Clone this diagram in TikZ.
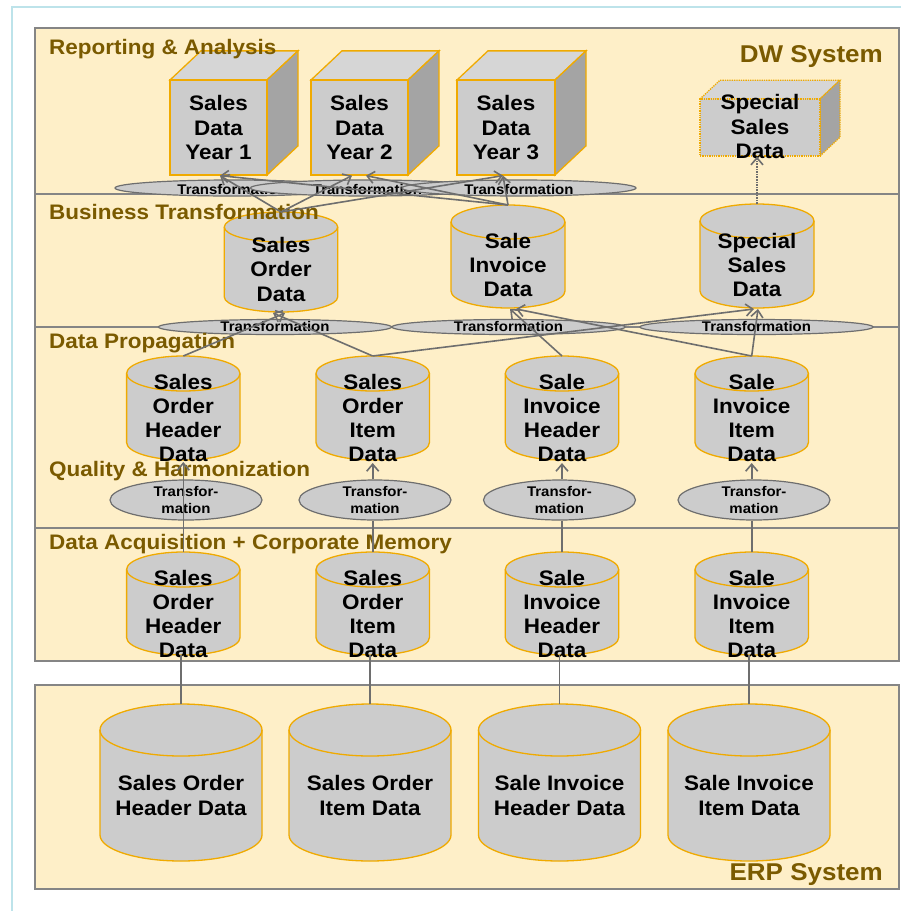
\documentclass[tikz,border=0pt]{standalone}
\usepackage{fontspec}
\setmainfont{Liberation Sans}[FakeStretch=1.07]
\usetikzlibrary{arrows.meta,shapes.geometric,calc}

\definecolor{panelfill}{HTML}{FEEFC8}
\definecolor{panelline}{HTML}{858585}
\definecolor{framecyan}{HTML}{BDE3EA}
\definecolor{lblbrown}{HTML}{7A5A00}
\definecolor{shapegray}{HTML}{CCCCCC}
\definecolor{cubetop}{HTML}{D6D6D6}
\definecolor{cubeside}{HTML}{A4A4A4}
\definecolor{rimorange}{HTML}{F0AA00}
\definecolor{flowgray}{HTML}{6E6E6E}

\tikzset{
  panel/.style={draw=panelline, fill=panelfill, line width=1.8pt},
  divider/.style={draw=panelline, line width=1.8pt},
  layerlabel/.style={anchor=base west, inner sep=0, text=lblbrown,
    font=\fontsize{21}{25}\selectfont\bfseries},
  systemlabel/.style={anchor=base east, inner sep=0, text=lblbrown,
    font=\fontsize{24.3}{29}\selectfont\bfseries},
  storetext/.style={align=center, inner sep=0,
    font=\fontsize{21}{24.3}\selectfont\bfseries},
  xformshape/.style={ellipse, draw=flowgray, fill=shapegray, line width=1.2pt, inner sep=0},
  xformtext/.style={align=center, inner sep=0,
    font=\fontsize{14}{16.6}\selectfont\bfseries},
  rim/.style={draw=rimorange, line width=1.3pt},
  cubeface/.style={rim, fill=shapegray, inner sep=0},
  flow/.style={draw=flowgray, line width=1.6pt,
    -{Straight Barb[length=7pt, width=12pt]}},
  feed/.style={draw=flowgray, line width=1.6pt},
}

% database cylinder: name, centre x, top y, bottom y, x radius, y radius
\newcommand\dbshape[6]{%
  \path[rim, fill=shapegray]
    ({#2-#5},{#3+#6}) -- ({#2-#5},{#4-#6})
    arc[start angle=180, end angle=360, x radius=#5pt, y radius=#6pt]
    -- ({#2+#5},{#3+#6})
    arc[start angle=0, end angle=180, x radius=#5pt, y radius=#6pt] -- cycle;
  \draw[rim] ({#2-#5},{#3+#6})
    arc[start angle=180, end angle=360, x radius=#5pt, y radius=#6pt];
  \node[inner sep=0, outer sep=0, minimum width={2*#5pt},
    minimum height={(#4-#3)*1pt}] (#1) at ({#2},{(#3+#4)/2}) {};
}

% data cube: [border style] name, left, top, right, bottom, depth
\newcommand\datacube[7][]{%
  \filldraw[rim, fill=cubetop, #1] (#3,#4) -- ({#3+#7},{#4-0.94*#7})
    -- ({#5+#7},{#4-0.94*#7}) -- (#5,#4) -- cycle;
  \filldraw[rim, fill=cubeside, #1] (#5,#4) -- ({#5+#7},{#4-0.94*#7})
    -- ({#5+#7},{#6-0.94*#7}) -- (#5,#6) -- cycle;
  \node[cubeface, #1, minimum width={(#5-#3)*1pt}, minimum height={(#6-#4)*1pt}]
    (#2) at ({(#3+#5)/2},{(#4+#6)/2}) {};
}

\begin{document}
\begin{tikzpicture}[x=1pt, y=-1pt]
\useasboundingbox (0,0) rectangle (901,911);

% outer frame
\draw[framecyan, line width=2pt] (12,911) -- (12,7) -- (901,7);

% system panels and layer dividers
\path[panel] (35,28) rectangle (899,661);
\path[panel] (35,685) rectangle (899,889);
\draw[divider] (35,194) -- (899,194);
\draw[divider] (35,327) -- (899,327);
\draw[divider] (35,528) -- (899,528);

% reporting cubes
\datacube{cube1}{170}{80}{267}{175}{31}
\datacube{cube2}{311}{80}{408}{175}{31}
\datacube{cube3}{457}{80}{555}{175}{31}
\datacube[densely dotted]{scube}{700}{99}{820}{156}{20}
\node[storetext] (cube1t) at (218.5,130.4) {\strut Sales\\Data\\Year 1\strut};
\node[storetext] (cube2t) at (359.5,130.4) {\strut Sales\\Data\\Year 2\strut};
\node[storetext] (cube3t) at (506,130.4) {\strut Sales\\Data\\Year 3\strut};
\node[storetext] (scubet) at (760,129.4) {\strut Special\\Sales\\Data\strut};

% transformations into the reporting layer
\node[xformshape, minimum width=234pt, minimum height=16pt] (rt1) at (232,188) {};
\node[xformtext] (rt1t) at (232,191) {\strut Transformation};
\node[xformshape, minimum width=234pt, minimum height=16pt] (rt2) at (367.5,188) {};
\node[xformtext] (rt2t) at (367.5,191) {\strut Transformation};
\node[xformshape, minimum width=234pt, minimum height=16pt] (rt3) at (519,188) {};
\node[xformtext] (rt3t) at (519,191) {\strut Transformation};

% business transformation stores
\dbshape{sod}{281}{212}{312}{56.7}{15}
\dbshape{sid}{508}{205}{308}{57}{17}
\dbshape{ssd}{757}{204}{308}{57}{17}
\node[storetext] (sodt) at (281,272.1) {\strut Sales\\Order\\Data\strut};
\node[storetext] (sidt) at (508,267.7) {\strut Sale\\Invoice\\Data\strut};
\node[storetext] (ssdt) at (757,267.7) {\strut Special\\Sales\\Data\strut};

% transformations into the business layer
\node[xformshape, minimum width=233pt, minimum height=15pt] (bt1) at (275,327) {};
\node[xformtext] (bt1t) at (275,328.4) {\strut Transformation};
\node[xformshape, minimum width=233pt, minimum height=15pt] (bt2) at (508.5,327) {};
\node[xformtext] (bt2t) at (508.5,328.4) {\strut Transformation};
\node[xformshape, minimum width=233pt, minimum height=15pt] (bt3) at (756.5,327) {};
\node[xformtext] (bt3t) at (756.5,328.4) {\strut Transformation};

% propagation stores
\dbshape{pd1}{183.3}{356}{460}{56.7}{17.5}
\dbshape{pd2}{372.7}{356}{460}{56.7}{17.5}
\dbshape{pd3}{562}{356}{460}{56.7}{17.5}
\dbshape{pd4}{751.7}{356}{460}{56.7}{17.5}
\node[storetext] (pd1t) at (183.3,420.6) {\strut Sales\\Order\\Header\\Data\strut};
\node[storetext] (pd2t) at (372.7,420.6) {\strut Sales\\Order\\Item\\Data\strut};
\node[storetext] (pd3t) at (562,420.6) {\strut Sale\\Invoice\\Header\\Data\strut};
\node[storetext] (pd4t) at (751.7,420.6) {\strut Sale\\Invoice\\Item\\Data\strut};

% quality and harmonization transformations
\node[xformshape, minimum width=152pt, minimum height=40pt] (qh1) at (186,500) {};
\node[xformtext] (qh1t) at (186,501.7) {\strut Transfor-\\mation\strut};
\node[xformshape, minimum width=152pt, minimum height=40pt] (qh2) at (375,500) {};
\node[xformtext] (qh2t) at (375,501.7) {\strut Transfor-\\mation\strut};
\node[xformshape, minimum width=152pt, minimum height=40pt] (qh3) at (559.5,500) {};
\node[xformtext] (qh3t) at (559.5,501.7) {\strut Transfor-\\mation\strut};
\node[xformshape, minimum width=152pt, minimum height=40pt] (qh4) at (754,500) {};
\node[xformtext] (qh4t) at (754,501.7) {\strut Transfor-\\mation\strut};

% acquisition stores
\dbshape{ad1}{183.3}{552}{655}{56.7}{17.5}
\dbshape{ad2}{372.7}{552}{655}{56.7}{17.5}
\dbshape{ad3}{562}{552}{655}{56.7}{17.5}
\dbshape{ad4}{751.7}{552}{655}{56.7}{17.5}
\node[storetext] (ad1t) at (183.3,616.6) {\strut Sales\\Order\\Header\\Data\strut};
\node[storetext] (ad2t) at (372.7,616.6) {\strut Sales\\Order\\Item\\Data\strut};
\node[storetext] (ad3t) at (562,616.6) {\strut Sale\\Invoice\\Header\\Data\strut};
\node[storetext] (ad4t) at (751.7,616.6) {\strut Sale\\Invoice\\Item\\Data\strut};

% ERP source tables
\dbshape{erp1}{181}{704}{861}{81}{26}
\dbshape{erp2}{370}{704}{861}{81}{26}
\dbshape{erp3}{559.5}{704}{861}{81}{26}
\dbshape{erp4}{749}{704}{861}{81}{26}
\node[storetext] (erp1t) at (181,798) {\strut Sales Order\\Header Data\strut};
\node[storetext] (erp2t) at (370,798) {\strut Sales Order\\Item Data\strut};
\node[storetext] (erp3t) at (559.5,798) {\strut Sale Invoice\\Header Data\strut};
\node[storetext] (erp4t) at (749,798) {\strut Sale Invoice\\Item Data\strut};

% layer and system captions
\node[layerlabel] (lra) at (49,54.3) {Reporting \& Analysis};
\node[systemlabel] (ldw) at (883,62.3) {DW System};
\node[layerlabel] (lbt) at (49,219.5) {Business Transformation};
\node[layerlabel] (ldp) at (49,348.5) {Data Propagation};
\node[layerlabel] (lqh) at (49,476.7) {Quality \& Harmonization};
\node[layerlabel] (lda) at (49,549) {Data Acquisition + Corporate Memory};
\node[systemlabel] (lerp) at (883,880.7) {ERP System};

% business layer -> reporting cubes
\draw[flow] (sod.north) -- ($(cube1.south)+(1.5,0)$);
\draw[flow] (sod.north) -- ($(cube2.south)+(-7.5,0)$);
\draw[flow] (sod.north) -- ($(cube3.south)+(-3,0)$);
\draw[flow] (sid.north) -- ($(cube1.south)+(1.5,0)$);
\draw[flow] (sid.north) -- ($(cube2.south)+(6.5,0)$);
\draw[flow] (sid.north) -- ($(cube3.south)+(-3,0)$);
\draw[flow, densely dotted] (ssd.north) -- (ssd.north |- scube.south);

% propagation -> business layer
\draw[flow] (pd1.north) -- ($(sod.south)+(4,1)$);
\draw[flow] (pd2.north) -- ($(sod.south)+(-8,1)$);
\draw[flow] (pd2.north) -- ($(ssd.south)+(-3,1)$);
\draw[flow] (pd3.north) -- ($(sid.south)+(2,1)$);
\draw[flow] (pd4.north) -- ($(sid.south)+(8,1)$);
\draw[flow] (pd4.north) -- ($(ssd.south)+(1,1)$);

% acquisition -> propagation
\draw[flow] (ad1.north) -- ($(pd1.south)+(0,2)$);
\draw[feed] (ad2.north) -- (ad2.north |- qh2.south);
\draw[flow] (ad2.north |- qh2.north) -- ($(pd2.south)+(0,3)$);
\draw[feed] (ad3.north) -- (ad3.north |- qh3.south);
\draw[flow] (ad3.north |- qh3.north) -- ($(pd3.south)+(0,3)$);
\draw[feed] (ad4.north) -- (ad4.north |- qh4.south);
\draw[flow] (ad4.north |- qh4.north) -- ($(pd4.south)+(0,3)$);

% ERP -> acquisition
\draw[feed] (erp1.north) -- (erp1.north |- ad1.south);
\draw[feed] (erp2.north) -- (erp2.north |- ad2.south);
\draw[feed] (erp3.north) -- (erp3.north |- ad3.south);
\draw[feed] (erp4.north) -- (erp4.north |- ad4.south);
\end{tikzpicture}
\end{document}
